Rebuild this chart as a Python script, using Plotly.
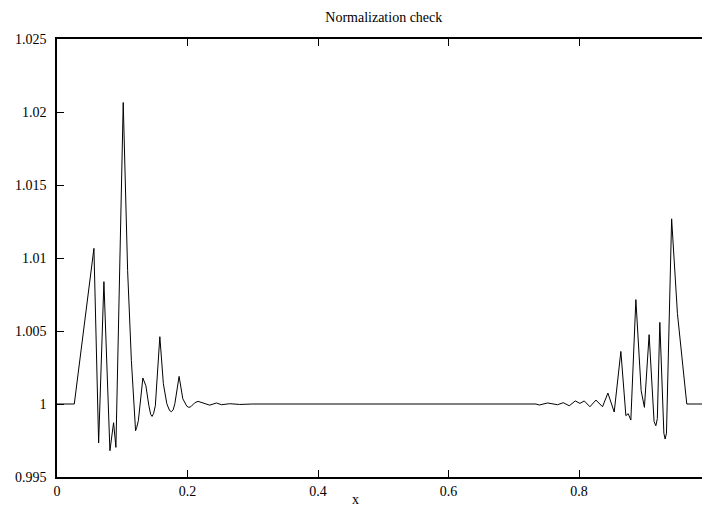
import plotly.graph_objects as go

x_vals = [0.0, 0.0265, 0.0566, 0.0638, 0.0719, 0.0811, 0.0867, 0.0903, 0.1015, 0.1082,
          0.1140, 0.1190, 0.1204, 0.1222, 0.1247, 0.1316, 0.1362, 0.1408, 0.1435, 0.1457,
          0.1480, 0.1507, 0.1576, 0.1630, 0.1683, 0.1725, 0.1752, 0.1780, 0.1806, 0.1871,
          0.1928, 0.1989, 0.2020, 0.2050, 0.2112, 0.2162, 0.2234, 0.2341, 0.2444, 0.2520,
          0.2647, 0.28, 0.30, 0.35, 0.40, 0.50, 0.60, 0.70, 0.72,
          0.734, 0.739, 0.7518, 0.7671, 0.7758, 0.785, 0.7942, 0.8014, 0.8080, 0.8167,
          0.8259, 0.8360, 0.8442, 0.8539, 0.8641, 0.8718, 0.8753, 0.8794, 0.8871, 0.8952,
          0.9002, 0.9074, 0.9150, 0.9177, 0.9200, 0.9238, 0.9300, 0.9319, 0.9340, 0.9419,
          0.9508, 0.9651, 1.0]
y_vals = [1.0, 1.0, 1.01066, 0.99733, 1.00838, 0.9968, 0.99872, 0.99703, 1.02065, 1.00914,
          1.00297, 0.99860, 0.99817, 0.99840, 0.99886, 1.00178, 1.00125, 0.99988, 0.99930, 0.99915,
          0.99935, 0.99988, 1.00461, 1.00139, 1.00002, 0.99955, 0.99947, 0.99960, 1.00002, 1.00189,
          1.00036, 0.99985, 0.99977, 0.99981, 1.00009, 1.00018, 1.00009, 0.99992, 1.00007, 0.99995,
          1.00002, 0.99997, 1.0, 1.0, 1.0, 1.0, 1.0, 1.0, 0.99998,
          1.0, 0.99993, 1.00007, 0.99995, 1.00009, 0.99988, 1.00021, 1.00004, 1.00021, 0.99981,
          1.00027, 0.99981, 1.00075, 0.99945, 1.0036, 0.9992, 0.99934, 0.9989, 1.00715, 1.00091,
          0.99977, 1.00475, 0.99880, 0.99851, 0.99900, 1.00559, 0.99800, 0.9976, 0.99800, 1.01268,
          1.00619, 1.0, 1.0]

x_ticks = [0, 0.2, 0.4, 0.6, 0.8]
x_tick_labels = ["0", "0.2", "0.4", "0.6", "0.8"]
y_ticks = [0.995, 1.0, 1.005, 1.01, 1.015, 1.02, 1.025]
y_tick_labels = ["0.995", "1", "1.005", "1.01", "1.015", "1.02", "1.025"]

font_family = "Liberation Serif, Times New Roman, serif"

fig = go.Figure()
fig.add_trace(go.Scatter(x=x_vals, y=y_vals, mode="lines",
                         line=dict(color="black", width=1), showlegend=False))
# invisible trace to activate the right-hand tick axis
fig.add_trace(go.Scatter(x=[0], y=[1.0], yaxis="y2", mode="lines",
                         line=dict(width=0), showlegend=False, hoverinfo="skip"))

fig.update_layout(
    width=702, height=511,
    margin=dict(l=49, r=0, t=31, b=42),
    paper_bgcolor="white", plot_bgcolor="white",
    font=dict(family=font_family, size=14, color="black"),
    title=dict(text="Normalization check", x=0.5353, xanchor="center", xref="container",
               y=0.982, yanchor="middle", yref="container", font=dict(size=14),
               automargin=False),
    xaxis=dict(range=[0, 1.0007], tickvals=x_ticks, ticktext=x_tick_labels,
               ticks="inside", ticklen=7, tickcolor="black", tickwidth=1,
               showline=True, linecolor="black", linewidth=1.5, mirror="ticks",
               showgrid=False, zeroline=False, automargin=False),
    yaxis=dict(range=[0.995, 1.025], tickvals=y_ticks, ticktext=y_tick_labels,
               ticks="inside", ticklen=7, tickcolor="black", tickwidth=1,
               showline=True, linecolor="black", linewidth=1.5, mirror=False,
               showgrid=False, zeroline=False, ticklabelstandoff=6, automargin=False),
    yaxis2=dict(range=[0.995, 1.025], tickvals=y_ticks, overlaying="y", side="right",
                ticks="inside", ticklen=7, tickcolor="black", tickwidth=1,
                showticklabels=False, showline=False, showgrid=False, zeroline=False,
                automargin=False),
    annotations=[dict(text="x", xref="paper", yref="paper", x=0.4564, y=-0.0525,
                      xanchor="center", yanchor="middle", showarrow=False,
                      font=dict(size=14))],
)

fig.write_html("out.html")
